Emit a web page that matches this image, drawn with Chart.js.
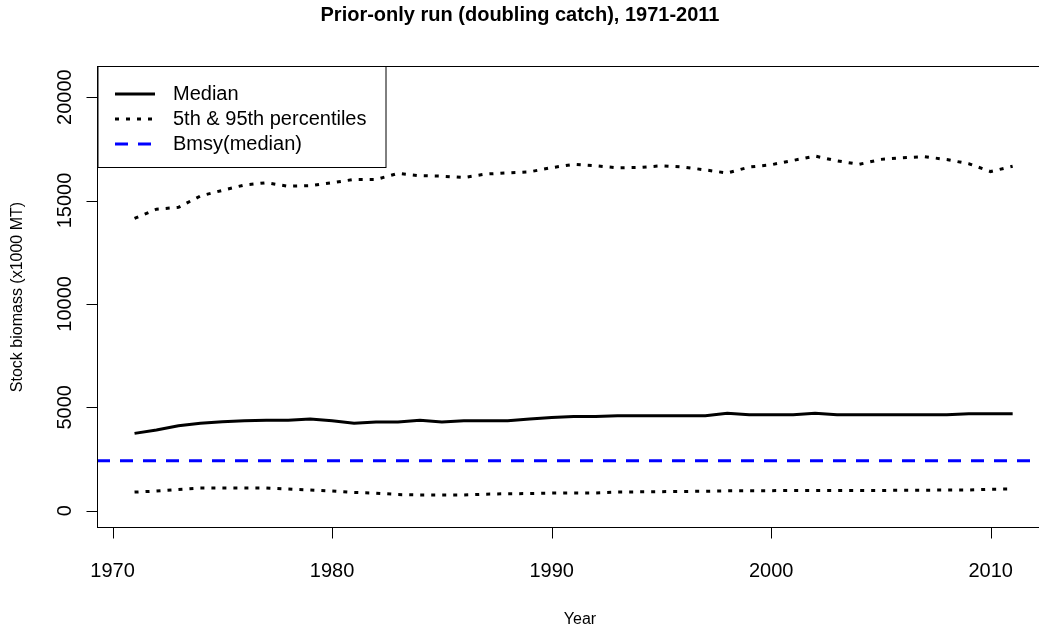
<!DOCTYPE html>
<html>
<head>
<meta charset="utf-8">
<script src="https://cdn.jsdelivr.net/npm/chart.js@4"></script>
<style>
  html, body { margin: 0; padding: 0; background: #fff; overflow: hidden; }
  #wrap { width: 1039px; height: 635px; }
</style>
</head>
<body>
<div id="wrap"><canvas id="chart" width="1039" height="635"></canvas></div>
<script>
// chart data
const title = "Prior-only run (doubling catch), 1971-2011";
const xTitle = "Year";
const yTitle = "Stock biomass (x1000 MT)";

const years = [1971, 1972, 1973, 1974, 1975, 1976, 1977, 1978, 1979, 1980,
  1981, 1982, 1983, 1984, 1985, 1986, 1987, 1988, 1989, 1990,
  1991, 1992, 1993, 1994, 1995, 1996, 1997, 1998, 1999, 2000,
  2001, 2002, 2003, 2004, 2005, 2006, 2007, 2008, 2009, 2010, 2011];

const median = [3740, 3900, 4110, 4230, 4300, 4350, 4370, 4370, 4430, 4350,
  4230, 4290, 4290, 4370, 4290, 4350, 4350, 4350, 4430, 4510,
  4550, 4550, 4590, 4590, 4590, 4590, 4590, 4710, 4640, 4640,
  4640, 4710, 4640, 4640, 4640, 4640, 4640, 4640, 4690, 4690, 4690];

const upper95 = [14140, 14580, 14670, 15220, 15490, 15750, 15860, 15690, 15720, 15860,
  16020, 16020, 16310, 16200, 16180, 16110, 16280, 16340, 16390, 16590,
  16750, 16680, 16580, 16600, 16680, 16620, 16480, 16330, 16620, 16730,
  16940, 17150, 16920, 16750, 16990, 17070, 17120, 16980, 16780, 16400, 16660];

const lower5 = [900, 950, 1030, 1100, 1100, 1100, 1100, 1050, 1000, 950,
  880, 850, 780, 760, 760, 760, 800, 820, 830, 850,
  860, 860, 900, 910, 920, 930, 940, 960, 970, 970,
  980, 980, 980, 980, 980, 990, 990, 1000, 1000, 1040, 1050];

const bmsy = 2420;

const xTicks = [1970, 1980, 1990, 2000, 2010];
const yTicks = [0, 5000, 10000, 15000, 20000];

// axis limits (R style, extended past the data)
const xMin = 1969.29, xMax = 2012.2;
const yMin = -837, yMax = 21506;

const FONT = "'Liberation Sans', Arial, Helvetica, sans-serif";

const pts = (vals) => years.map((yr, i) => ({ x: yr, y: vals[i] }));

// R-like axes, box, titles and legend
const rPlot = {
  id: "rPlot",
  afterDraw(chart) {
    const { ctx, chartArea: a, scales } = chart;
    const x = scales.x, y = scales.y;
    ctx.save();
    ctx.strokeStyle = "#000";
    ctx.fillStyle = "#000";
    ctx.lineWidth = 1;

    // plot box (right side runs off the canvas)
    ctx.strokeRect(Math.round(a.left) + 0.5, Math.round(a.top) + 0.5, a.right - a.left + 30, Math.round(a.bottom - a.top) - 1);

    const bottom = Math.round(a.bottom) - 0.5;
    const left = Math.round(a.left) + 0.5;

    // x axis ticks + labels
    ctx.font = "20px " + FONT;
    ctx.textAlign = "center";
    ctx.textBaseline = "middle";
    ctx.beginPath();
    xTicks.forEach((t) => {
      const px = Math.round(x.getPixelForValue(t)) + 0.5;
      ctx.moveTo(px, bottom);
      ctx.lineTo(px, bottom + 11);
    });
    ctx.stroke();
    xTicks.forEach((t) => {
      ctx.fillText(String(t), x.getPixelForValue(t), 571);
    });

    // y axis ticks + rotated labels
    ctx.beginPath();
    yTicks.forEach((t) => {
      const py = Math.round(y.getPixelForValue(t)) + 0.5;
      ctx.moveTo(left, py);
      ctx.lineTo(left - 11, py);
    });
    ctx.stroke();
    yTicks.forEach((t) => {
      ctx.save();
      ctx.translate(65, y.getPixelForValue(t));
      ctx.rotate(-Math.PI / 2);
      ctx.fillText(String(t), 0, 0);
      ctx.restore();
    });

    // titles
    ctx.font = "bold 20px " + FONT;
    ctx.fillText(title, 520, 15);
    ctx.font = "16px " + FONT;
    ctx.fillText(xTitle, 580, 620);
    ctx.save();
    ctx.translate(18, (a.top + a.bottom) / 2);
    ctx.rotate(-Math.PI / 2);
    ctx.fillText(yTitle, 0, 0);
    ctx.restore();

    // legend box
    const lx = left + 0.5, ly = Math.round(a.top) + 0.5, lw = 288, lh = 101;
    ctx.fillStyle = "#fff";
    ctx.fillRect(lx, ly, lw, lh);
    ctx.strokeStyle = "#000";
    ctx.lineWidth = 1;
    ctx.strokeRect(lx, ly, lw, lh);

    const rows = [94, 119, 144];
    ctx.font = "20px " + FONT;
    ctx.textAlign = "left";
    chart.data.datasets.slice(0, 3).forEach((ds, i) => {
      const ry = rows[i];
      ctx.save();
      ctx.strokeStyle = ds.borderColor;
      ctx.lineWidth = ds.borderWidth;
      ctx.setLineDash(ds.borderDash || []);
      ctx.lineCap = ds.borderCapStyle || "butt";
      ctx.beginPath();
      ctx.moveTo(115, ry);
      ctx.lineTo(155, ry);
      ctx.stroke();
      ctx.restore();
      ctx.fillStyle = "#000";
      ctx.fillText(ds.label, 173, ry);
    });
    ctx.restore();
  }
};

const ctx = document.getElementById("chart").getContext("2d");
const chart = new Chart(ctx, {
  type: "line",
  data: {
    datasets: [
      {
        label: "Median",
        data: pts(median),
        borderColor: "#000",
        borderWidth: 3,
        pointRadius: 0,
        tension: 0,
      },
      {
        label: "5th & 95th percentiles",
        data: pts(upper95),
        borderColor: "#000",
        borderWidth: 3,
        borderDash: [4, 7],
        pointRadius: 0,
        tension: 0,
      },
      {
        label: "Bmsy(median)",
        data: [{ x: xMin, y: bmsy }, { x: xMax, y: bmsy }],
        borderColor: "#0000ff",
        borderWidth: 3,
        borderDash: [13, 10],
        pointRadius: 0,
        tension: 0,
      },
      {
        label: "5th percentile",
        data: pts(lower5),
        borderColor: "#000",
        borderWidth: 3,
        borderDash: [4, 7],
        pointRadius: 0,
        tension: 0,
      },
    ],
  },
  options: {
    responsive: false,
    animation: false,
    events: [],
    layout: { padding: { left: 97, top: 66, right: 0, bottom: 107 } },
    scales: {
      x: { type: "linear", min: xMin, max: xMax, display: false },
      y: { type: "linear", min: yMin, max: yMax, display: false },
    },
    plugins: {
      legend: { display: false },
      title: { display: false },
      tooltip: { enabled: false },
    },
  },
  plugins: [rPlot],
});
</script>
</body>
</html>
